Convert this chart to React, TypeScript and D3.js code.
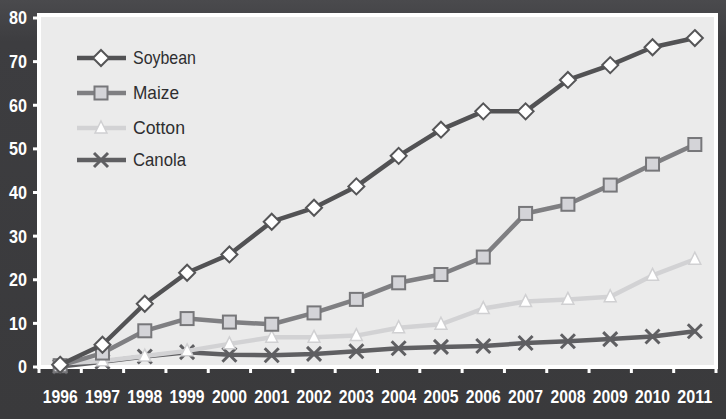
import React from "react";
import * as d3 from "d3";

const years = ["1996","1997","1998","1999","2000","2001","2002","2003","2004","2005","2006","2007","2008","2009","2010","2011"];
const soybean = [0.5, 5.1, 14.5, 21.6, 25.8, 33.3, 36.5, 41.4, 48.4, 54.4, 58.6, 58.6, 65.8, 69.2, 73.3, 75.4];
const maize = [0.3, 3.2, 8.3, 11.1, 10.3, 9.8, 12.4, 15.5, 19.3, 21.2, 25.2, 35.2, 37.3, 41.7, 46.5, 51.0];
const cotton = [0.8, 1.4, 2.5, 3.7, 5.3, 6.8, 6.8, 7.2, 9.0, 9.8, 13.4, 15.0, 15.5, 16.1, 21.0, 24.7];
const canola = [0.1, 1.2, 2.4, 3.4, 2.8, 2.7, 3.0, 3.6, 4.3, 4.6, 4.8, 5.5, 5.9, 6.4, 7.0, 8.2];
const yTicks = [0, 10, 20, 30, 40, 50, 60, 70, 80];
const seriesNames = ["Soybean", "Maize", "Cotton", "Canola"];

const W = 726, H = 419;
const left = 39, right = 716, top = 18, bottom = 367;

type Marker = "diamond" | "square" | "triangle" | "x";
const seriesStyle: { values: number[]; line: string; marker: Marker; fill: string; stroke: string }[] = [
  { values: soybean, line: "#525254", marker: "diamond", fill: "#ffffff", stroke: "#555557" },
  { values: maize, line: "#7f7f82", marker: "square", fill: "#d4d4d8", stroke: "#77777a" },
  { values: cotton, line: "#d2d2d4", marker: "triangle", fill: "#ffffff", stroke: "#d0d0d2" },
  { values: canola, line: "#5f5f62", marker: "x", fill: "none", stroke: "#5f5f62" },
];

function MarkerShape({ kind, x, y, fill, stroke }: { kind: Marker; x: number; y: number; fill: string; stroke: string }) {
  if (kind === "diamond") {
    const r = 8;
    return <path d={`M${x},${y - r}L${x + r},${y}L${x},${y + r}L${x - r},${y}Z`} fill={fill} stroke={stroke} strokeWidth={2} />;
  }
  if (kind === "square") {
    const r = 6.5;
    return <rect x={x - r} y={y - r} width={2 * r} height={2 * r} fill={fill} stroke={stroke} strokeWidth={2} />;
  }
  if (kind === "triangle") {
    const r = 7;
    return <path d={`M${x},${y - r}L${x + r * 0.85},${y + r * 0.7}L${x - r * 0.85},${y + r * 0.7}Z`} fill={fill} stroke={stroke} strokeWidth={1.5} />;
  }
  const r = 7;
  return (
    <g stroke={stroke} strokeWidth={3}>
      <line x1={x - r} y1={y - r} x2={x + r} y2={y + r} />
      <line x1={x - r} y1={y + r} x2={x + r} y2={y - r} />
    </g>
  );
}

export default function App() {
  const x = d3.scaleBand<string>().domain(years).range([left, right]);
  const y = d3.scaleLinear().domain([0, 80]).range([bottom, top]);
  const cx = (yr: string) => (x(yr) ?? 0) + x.bandwidth() / 2;
  const line = d3.line<number>().x((_, i) => cx(years[i])).y((v) => y(v));
  const order = [3, 2, 1, 0];
  const legendY = [58, 93, 128, 160];
  const legendW = [63, 46, 52, 53];
  const font = "Liberation Sans, Arial, sans-serif";

  return (
    <svg width={W} height={H} style={{ position: "absolute", left: 0, top: 0, display: "block" }}>
      <defs>
        <linearGradient id="bg" x1="0" y1="0" x2="0" y2="1">
          <stop offset="0" stopColor="#4a4a4d" />
          <stop offset="0.1" stopColor="#3d3d40" />
          <stop offset="1" stopColor="#3a3a3c" />
        </linearGradient>
      </defs>
      <rect x={0} y={0} width={W} height={H} fill="url(#bg)" />
      <rect x={left} y={top - 3} width={right - left} height={bottom - top + 3} fill="#ebebeb" stroke="#ffffff" strokeWidth={4} />
      {yTicks.map((t) => (
        <g key={t}>
          <line x1={left - 6} x2={left} y1={y(t)} y2={y(t)} stroke="#ffffff" strokeWidth={3} />
          <text x={left - 12} y={y(t)} dy="0.36em" textAnchor="end" fill="#ffffff" fontFamily={font} fontWeight="bold" fontSize={18}
            textLength={String(t).length * 9} lengthAdjust="spacingAndGlyphs">{t}</text>
        </g>
      ))}
      {years.map((yr) => (
        <line key={"t" + yr} x1={x(yr)!} x2={x(yr)!} y1={bottom} y2={bottom + 6} stroke="#ffffff" strokeWidth={3} />
      ))}
      <line x1={right} x2={right} y1={bottom} y2={bottom + 6} stroke="#ffffff" strokeWidth={3} />
      {years.map((yr) => (
        <text key={"l" + yr} x={cx(yr) - 17.5} y={403} fill="#ffffff" fontFamily={font} fontWeight="bold" fontSize={18}
          textLength={35} lengthAdjust="spacingAndGlyphs">{yr}</text>
      ))}
      {order.map((i) => {
        const s = seriesStyle[i];
        return (
          <g key={seriesNames[i]}>
            <path d={line(s.values) ?? ""} fill="none" stroke={s.line} strokeWidth={4.5} strokeLinejoin="round" />
            {s.values.map((v, j) => (
              <MarkerShape key={j} kind={s.marker} x={cx(years[j])} y={y(v)} fill={s.fill} stroke={s.stroke} />
            ))}
          </g>
        );
      })}
      {seriesNames.map((n, i) => {
        const s = seriesStyle[i];
        const ly = legendY[i];
        return (
          <g key={"lg" + n}>
            <line x1={77} x2={126} y1={ly} y2={ly} stroke={s.line} strokeWidth={4.5} />
            <MarkerShape kind={s.marker} x={101} y={ly} fill={s.fill} stroke={s.stroke} />
            <text x={133} y={ly} dy="0.33em" fill="#2e2e30" fontFamily={font} fontSize={18.5}
              textLength={legendW[i]} lengthAdjust="spacingAndGlyphs">{n}</text>
          </g>
        );
      })}
    </svg>
  );
}
